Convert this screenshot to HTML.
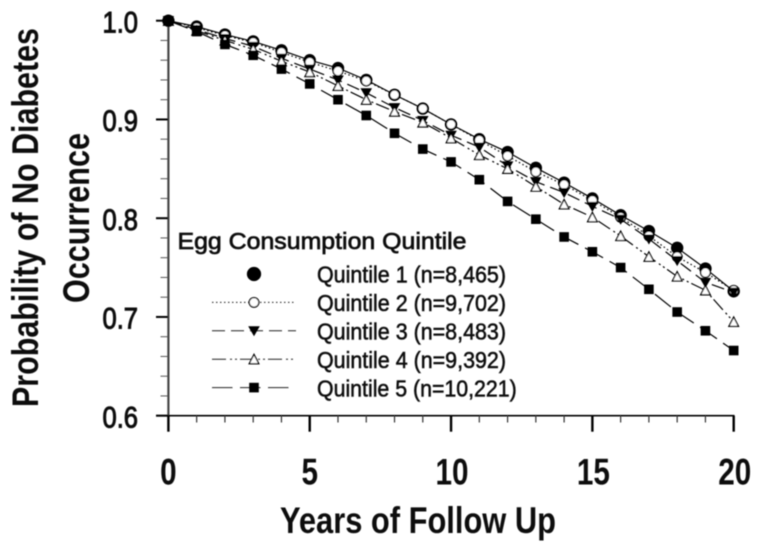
<!DOCTYPE html>
<html>
<head>
<meta charset="utf-8">
<title>Egg consumption and diabetes</title>
<style>
html,body{margin:0;padding:0;background:#fff;}
svg{display:block;}
text{font-family:"Liberation Sans",sans-serif;fill:#111;}
</style>
</head>
<body>
<svg id="chart" width="757" height="549" viewBox="0 0 757 549" xmlns="http://www.w3.org/2000/svg">
<defs><filter id="soft" x="-5%" y="-5%" width="110%" height="110%"><feGaussianBlur stdDeviation="0.45"/></filter></defs>
<g id="root" filter="url(#soft)"></g>
</svg>
<script>
var years = [0,1,2,3,4,5,6,7,8,9,10,11,12,13,14,15,16,17,18,19,20];
var quintile1 = [1,.994,.986,.979,.970,.960,.952,.940,.925,.911,.895,.880,.867,.851,.836,.820,.803,.787,.770,.749,.726];
var quintile2 = [1,.993,.985,.978,.968,.958,.949,.939,.925,.911,.895,.879,.863,.847,.834,.818,.801,.782,.761,.745,.727];
var quintile3 = [1,.991,.982,.974,.962,.951,.940,.927,.912,.899,.884,.872,.853,.837,.826,.812,.799,.779,.757,.735,.725];
var quintile4 = [1,.990,.980,.971,.959,.948,.934,.920,.908,.897,.881,.864,.850,.832,.814,.801,.782,.761,.741,.727,.695];
var quintile5 = [1,.989,.976,.965,.951,.936,.920,.904,.886,.870,.857,.839,.817,.799,.781,.766,.750,.728,.705,.686,.666];
var xTickLabels = ["0","5","10","15","20"];
var yTickLabels = ["0.6","0.7","0.8","0.9","1.0"];
var legendLabels = ["Quintile 1 (n=8,465)","Quintile 2 (n=9,702)","Quintile 3 (n=8,483)","Quintile 4 (n=9,392)","Quintile 5 (n=10,221)"];

var NS = "http://www.w3.org/2000/svg";
var root = document.getElementById("root");
function xScale(v){ return 168.4 + (v - 0) * (733.7 - 168.4) / 20; }
function yScale(v){ return 415.7 - (v - 0.6) * (415.7 - 20.7) / 0.4; }
function make(tag, attrs, parent){
  var el = document.createElementNS(NS, tag);
  for (var k in attrs) el.setAttribute(k, attrs[k]);
  (parent || root).appendChild(el);
  return el;
}
function line(x1, y1, x2, y2, w, color, parent){
  return make("line", {x1:x1, y1:y1, x2:x2, y2:y2, "stroke-width":w, stroke:color}, parent);
}
function label(str, x, y, size, weight, width, anchor, parent){
  var t = make("text", {x:x, y:y, "font-size":size, "font-weight":weight, "text-anchor":anchor, textLength:width, lengthAdjust:"spacingAndGlyphs"}, parent);
  t.textContent = str;
  return t;
}
function marker(kind, cx, cy, parent, s){
  s = s || 1;
  if (kind === "filled-circle") return make("circle", {cx:cx, cy:cy, r:6.2*s, fill:"#000"}, parent);
  if (kind === "open-circle") return make("circle", {cx:cx, cy:cy, r:4.8*s, fill:"#fff", stroke:"#000", "stroke-width":1.3}, parent);
  if (kind === "down-triangle") return make("path", {d:"M"+(cx-5.8*s)+" "+(cy-4.5*s)+"L"+(cx+5.8*s)+" "+(cy-4.5*s)+"L"+cx+" "+(cy+5.5*s)+"Z", fill:"#000"}, parent);
  if (kind === "up-triangle") return make("path", {d:"M"+(cx-4.8*s)+" "+(cy+4.5*s)+"L"+(cx+4.8*s)+" "+(cy+4.5*s)+"L"+cx+" "+(cy-4.8*s)+"Z", fill:"#fff", stroke:"#000", "stroke-width":1.3}, parent);
  return make("rect", {x:cx-4.8*s, y:cy-4.8*s, width:9.6*s, height:9.6*s, fill:"#000"}, parent);
}

var seriesValues = [quintile1, quintile2, quintile3, quintile4, quintile5];
var seriesMarkers = ["filled-circle","open-circle","down-triangle","up-triangle","square"];
var seriesDash = ["none","1.5 2.5","13 6","14 4 2 3 2 3","20.5 7.5"];

/* axes */
var yAxis = make("g", {});


line(168.4, 20, 168.4, 416.5, 2.2, "#444", yAxis);
for (var yi = 0; yi <= 20; yi++) {
  var yv = 0.6 + yi * 0.02;
  var isMajorY = yi % 5 === 0;
  var yt = line(isMajorY ? 156 : 160.5, yScale(yv), 168, yScale(yv), isMajorY ? 2 : 1, isMajorY ? "#000" : "#555", yAxis);
  
  
}
yTickLabels.forEach(function(s, i){
  var t = label(s, 138, yScale(parseFloat(s)) + 11.6, 30, "normal", 35.5, "end", yAxis);
  t.setAttribute("stroke", "#111");
  t.setAttribute("stroke-width", "1");
  
  
});

var xAxis = make("g", {});


line(156, 415.7, 734.5, 415.7, 1.6, "#000", xAxis);
for (var xi = 0; xi <= 20; xi++) {
  var isMajorX = xi % 5 === 0;
  var xt = line(xScale(xi), 415.7, xScale(xi), isMajorX ? 431.7 : 422.5, isMajorX ? 2.4 : 1.2, isMajorX ? "#000" : "#333", xAxis);
  
  
}
xTickLabels.forEach(function(s){
  var t = label(s, xScale(parseFloat(s)) + (s.length > 1 ? 1 : 0), 484.3, 37, "bold", s.length > 1 ? 33 : 16.5, "middle", xAxis);
  
  
});

/* series */
seriesValues.forEach(function(vals, si){
  var g = make("g", {});
  
  
  var pts = vals.map(function(v, i){ return xScale(years[i]) + "," + yScale(v); }).join(" ");
  var pl = make("polyline", {points:pts, fill:"none", stroke:"#000", "stroke-width":1.2, "stroke-dasharray":seriesDash[si]}, g);
  
  
  vals.forEach(function(v, i){
    var m = marker(seriesMarkers[si], xScale(years[i]), yScale(v), g);
    
    
  });
});

/* titles */
var xTitle = label("Years of Follow Up", 280, 533, 37, "bold", 276, "start");



var yTitle1 = label("Probability of No Diabetes", 0, 0, 37, "bold", 379, "middle");
yTitle1.setAttribute("transform", "translate(38 217.5) rotate(-90)");



var yTitle2 = label("Occurrence", 0, 0, 37, "bold", 170, "middle");
yTitle2.setAttribute("transform", "translate(89 218) rotate(-90)");



/* legend */
var legend = make("g", {});


var legendTitle = label("Egg Consumption Quintile", 177.5, 249, 23.5, "normal", 289, "start", legend);
legendTitle.setAttribute("stroke", "#111");
legendTitle.setAttribute("stroke-width", "0.7");


legendLabels.forEach(function(s, i){
  var rowY = 274 + i * 28.4;
  var row = make("g", {}, legend);
  
  
  if (i > 0) {
    make("line", {x1:212, y1:rowY, x2:i === 4 ? 290 : 296, y2:rowY, stroke:"#222", "stroke-width":1, "stroke-dasharray":seriesDash[i]}, row);
  }
  marker(seriesMarkers[i], 254, rowY, row, i === 0 ? 1.15 : 1);
  var t = label(s, 317, rowY + 8.7, 23, "normal", i === 4 ? 199.7 : 189, "start", row);
  t.setAttribute("stroke", "#111");
  t.setAttribute("stroke-width", "0.55");
});
</script>
</body>
</html>
